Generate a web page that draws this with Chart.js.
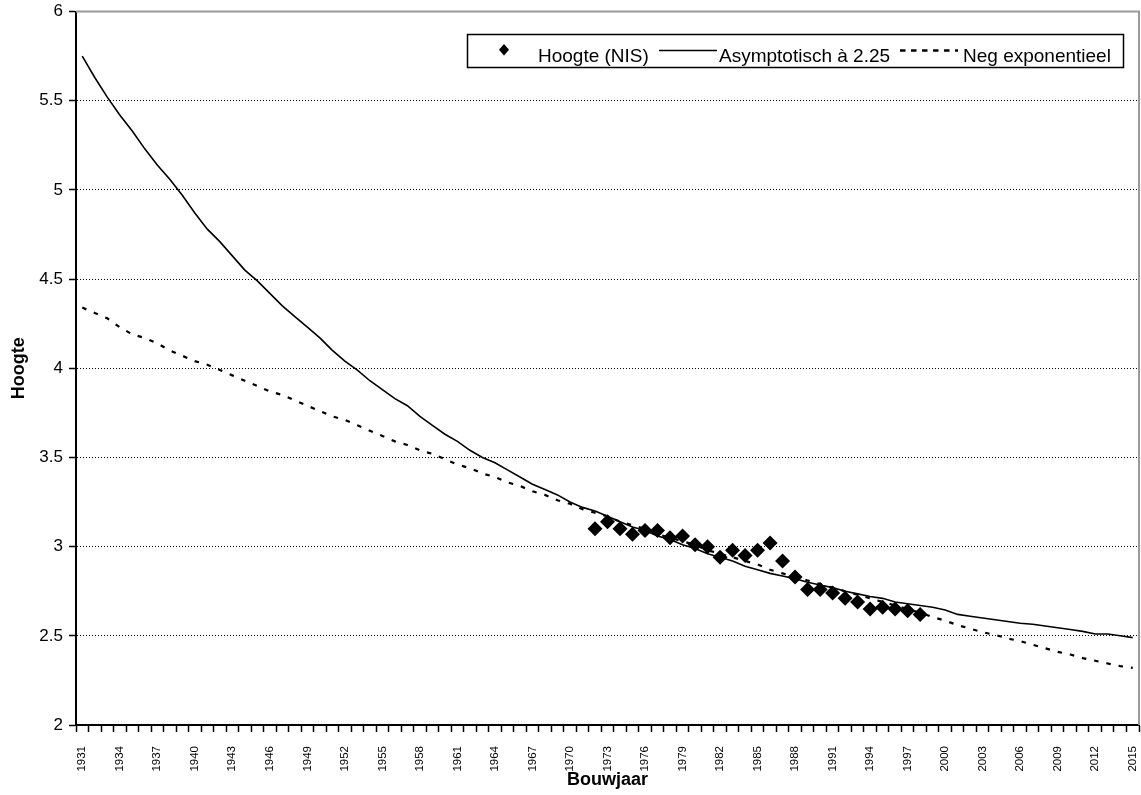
<!DOCTYPE html>
<html>
<head>
<meta charset="utf-8">
<script src="https://cdn.jsdelivr.net/npm/chart.js@4.4.0/dist/chart.umd.min.js"></script>
<style>
  html, body { margin: 0; padding: 0; background: #fff; }
  #wrap { width: 1141px; height: 795px; }
</style>
</head>
<body>
<div id="wrap"><canvas id="grafiek" width="1141" height="795"></canvas></div>
<script>
// Bouwjaren (categorieen)
const jaren = [
  1931, 1932, 1933, 1934, 1935, 1936, 1937, 1938, 1939, 1940,
  1941, 1942, 1943, 1944, 1945, 1946, 1947, 1948, 1949, 1950,
  1951, 1952, 1953, 1954, 1955, 1956, 1957, 1958, 1959, 1960,
  1961, 1962, 1963, 1964, 1965, 1966, 1967, 1968, 1969, 1970,
  1971, 1972, 1973, 1974, 1975, 1976, 1977, 1978, 1979, 1980,
  1981, 1982, 1983, 1984, 1985, 1986, 1987, 1988, 1989, 1990,
  1991, 1992, 1993, 1994, 1995, 1996, 1997, 1998, 1999, 2000,
  2001, 2002, 2003, 2004, 2005, 2006, 2007, 2008, 2009, 2010,
  2011, 2012, 2013, 2014, 2015
];

// Asymptotisch a 2.25 (1931-2015)
const asymptotisch = [
  5.75, 5.63, 5.52, 5.42, 5.33, 5.23, 5.14, 5.06, 4.97, 4.87,
  4.78, 4.71, 4.63, 4.55, 4.49, 4.42, 4.35, 4.29, 4.23, 4.17,
  4.10, 4.04, 3.99, 3.93, 3.88, 3.83, 3.79, 3.73, 3.68, 3.63,
  3.59, 3.54, 3.50, 3.47, 3.43, 3.39, 3.35, 3.32, 3.29, 3.25,
  3.22, 3.20, 3.17, 3.14, 3.11, 3.09, 3.06, 3.04, 3.01, 2.99,
  2.96, 2.94, 2.92, 2.89, 2.87, 2.85, 2.835, 2.82, 2.80, 2.785,
  2.77, 2.75, 2.735, 2.72, 2.71, 2.69, 2.68, 2.67, 2.66, 2.645,
  2.62, 2.61, 2.60, 2.59, 2.58, 2.57, 2.565, 2.555, 2.545, 2.535,
  2.525, 2.51, 2.51, 2.50, 2.49
];

// Neg exponentieel (1931-2015)
const negExponentieel = [
  4.34, 4.31, 4.28, 4.23, 4.19, 4.17, 4.14, 4.10, 4.07, 4.04,
  4.02, 3.99, 3.96, 3.93, 3.90, 3.87, 3.85, 3.82, 3.79, 3.76,
  3.73, 3.71, 3.68, 3.65, 3.62, 3.59, 3.57, 3.54, 3.52, 3.49,
  3.46, 3.44, 3.41, 3.39, 3.36, 3.34, 3.31, 3.29, 3.26, 3.24,
  3.21, 3.19, 3.17, 3.14, 3.12, 3.10, 3.07, 3.05, 3.03, 3.01,
  2.98, 2.96, 2.94, 2.92, 2.90, 2.87, 2.85, 2.83, 2.81, 2.79,
  2.77, 2.75, 2.73, 2.71, 2.69, 2.67, 2.65, 2.63, 2.605, 2.585,
  2.56, 2.54, 2.52, 2.505, 2.485, 2.47, 2.45, 2.43, 2.41, 2.395,
  2.375, 2.36, 2.345, 2.33, 2.32
];

// Hoogte (NIS), gemeten 1972-1998
const nisStartJaar = 1972;
const hoogteNIS = [
  3.10, 3.14, 3.10, 3.07, 3.09, 3.09, 3.05, 3.06, 3.01, 3.00,
  2.94, 2.98, 2.95, 2.98, 3.02, 2.92, 2.83, 2.76, 2.76, 2.74,
  2.71, 2.69, 2.65, 2.66, 2.65, 2.64, 2.62
];

// y-as
const yMin = 2;
const yMax = 6;
const yStap = 0.5;
const labelStap = 3; // elk derde jaar een label

// NIS-reeks over alle jaren leggen (null waar geen meting)
const nisReeks = jaren.map(j => {
  const i = j - nisStartJaar;
  return (i >= 0 && i < hoogteNIS.length) ? hoogteNIS[i] : null;
});

const fontArial = "'Liberation Sans', Arial, sans-serif";

// Grijze rand boven en rechts van het plotgebied
const kaderPlugin = {
  id: 'kader',
  beforeDatasetsDraw(chart) {
    const { ctx, chartArea: a } = chart;
    ctx.save();
    ctx.strokeStyle = '#9a9a9a';
    ctx.lineWidth = 2;
    ctx.beginPath();
    ctx.moveTo(a.left, a.top);
    ctx.lineTo(a.right, a.top);
    ctx.lineTo(a.right, a.bottom);
    ctx.stroke();
    ctx.restore();
  }
};

// Legende in een kader, zoals in het origineel
const legendePlugin = {
  id: 'legende',
  afterDraw(chart) {
    const ctx = chart.ctx;
    const ds = chart.data.datasets;
    ctx.save();
    ctx.fillStyle = '#fff';
    ctx.fillRect(467, 34, 656, 33);
    ctx.strokeStyle = '#000';
    ctx.lineWidth = 1.5;
    ctx.strokeRect(467.5, 34.5, 656, 33);

    // ruit
    ctx.fillStyle = '#000';
    ctx.beginPath();
    ctx.moveTo(504, 44);
    ctx.lineTo(509, 49.7);
    ctx.lineTo(504, 55.4);
    ctx.lineTo(499, 49.7);
    ctx.closePath();
    ctx.fill();

    // doorgetrokken lijn
    ctx.lineWidth = 1.5;
    ctx.beginPath();
    ctx.moveTo(659, 50.5);
    ctx.lineTo(717, 50.5);
    ctx.stroke();

    // stippellijn
    ctx.lineWidth = 2.5;
    ctx.setLineDash([5.5, 5.5]);
    ctx.beginPath();
    ctx.moveTo(900, 50.5);
    ctx.lineTo(958, 50.5);
    ctx.stroke();
    ctx.setLineDash([]);

    ctx.font = '19px ' + fontArial;
    ctx.textBaseline = 'alphabetic';
    ctx.fillText(ds[0].label, 538, 61.5);
    ctx.fillText(ds[1].label, 719, 61.5);
    ctx.fillText(ds[2].label, 963, 61.5);
    ctx.restore();
  }
};

const ctx = document.getElementById('grafiek').getContext('2d');
new Chart(ctx, {
  type: 'line',
  data: {
    labels: jaren,
    datasets: [
      {
        label: 'Hoogte (NIS)',
        data: nisReeks,
        showLine: false,
        pointStyle: 'rectRot',
        pointRadius: 7.5,
        pointBackgroundColor: '#000',
        pointBorderWidth: 0,
        borderColor: '#000'
      },
      {
        label: 'Asymptotisch à 2.25',
        data: asymptotisch,
        borderColor: '#000',
        borderWidth: 1.6,
        pointRadius: 0,
        tension: 0,
        fill: false
      },
      {
        label: 'Neg exponentieel',
        data: negExponentieel,
        borderColor: '#000',
        borderWidth: 2.2,
        borderDash: [4.5, 8],
        pointRadius: 0,
        tension: 0,
        fill: false
      }
    ]
  },
  options: {
    responsive: false,
    animation: false,
    devicePixelRatio: 1,
    layout: {
      autoPadding: false,
      padding: { top: 11.5, right: 2, bottom: 0, left: 0 }
    },
    plugins: {
      legend: { display: false },
      tooltip: { enabled: false }
    },
    scales: {
      x: {
        type: 'category',
        offset: true,
        afterFit: s => {
          s.height = 70;
          s.paddingLeft = 0;
          s.paddingRight = 0;
        },
        grid: {
          display: true,
          drawOnChartArea: false,
          offset: true,
          tickLength: 7,
          tickColor: '#000',
          tickWidth: 1.5
        },
        border: { color: '#000', width: 2 },
        ticks: {
          autoSkip: false,
          maxRotation: 90,
          minRotation: 90,
          padding: 14,
          color: '#000',
          font: { family: fontArial, size: 11.5 },
          callback: function (value, index) {
            return index % labelStap === 0 ? String(this.getLabelForValue(value)) : '';
          }
        },
        title: {
          display: true,
          text: 'Bouwjaar',
          color: '#000',
          font: { family: fontArial, size: 18, weight: 'bold', lineHeight: 1.2 },
          padding: { top: 0, bottom: 4 }
        }
      },
      y: {
        min: yMin,
        max: yMax,
        afterFit: s => {
          s.width = 76;
          s.paddingTop = 0;
          s.paddingBottom = 0;
        },
        grid: {
          color: c => (c.tick && (c.tick.value === yMin || c.tick.value === yMax)) ? 'rgba(0,0,0,0)' : '#000',
          lineWidth: 1,
          tickLength: 7,
          tickColor: '#000',
          tickWidth: 1.5
        },
        border: { color: '#000', width: 2, dash: [1, 2] },
        ticks: {
          stepSize: yStap,
          padding: 6,
          color: '#000',
          font: { family: fontArial, size: 17 },
          callback: v => String(v)
        },
        title: {
          display: true,
          text: 'Hoogte',
          color: '#000',
          font: { family: fontArial, size: 18, weight: 'bold', lineHeight: 1.2 },
          padding: { top: 8, bottom: 0 }
        }
      }
    }
  },
  plugins: [kaderPlugin, legendePlugin]
});
</script>
</body>
</html>
